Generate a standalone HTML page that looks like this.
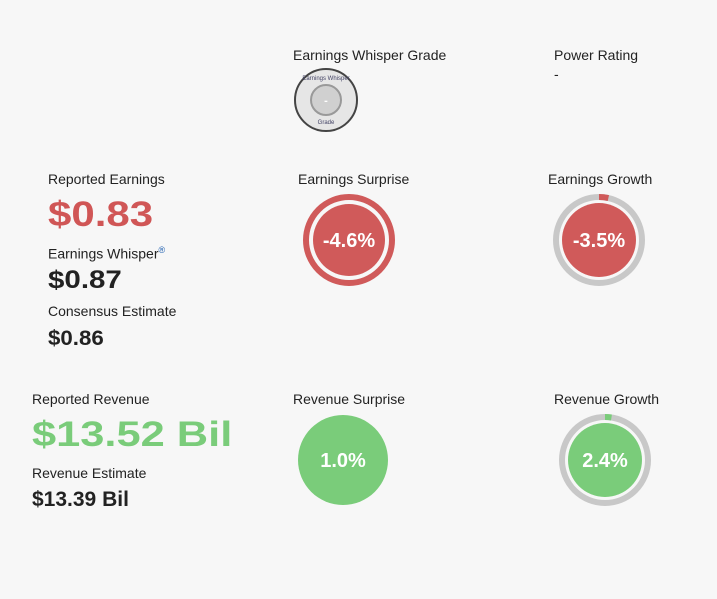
<!DOCTYPE html>
<html><head><meta charset="utf-8"><style>
body{margin:0;width:717px;height:599px;background:#f7f7f7;font-family:"Liberation Sans",sans-serif;position:relative;overflow:hidden}
.t{position:absolute;font-size:14px;color:#222;white-space:nowrap}
.big{position:absolute;font-weight:bold;white-space:nowrap;transform-origin:0 0}
svg{position:absolute;left:0;top:0}
</style></head><body>
<div class="t" style="left:293px;top:47px">Earnings Whisper Grade</div>
<div class="t" style="left:554px;top:47px">Power Rating</div>
<div class="t" style="left:554px;top:66px">-</div>
<div class="t" style="left:48px;top:171px">Reported Earnings</div>
<div class="big" style="left:48px;top:195px;font-size:35px;color:#d05656;transform:scaleX(1.2)">$0.83</div>
<div class="t" style="left:48px;top:245px">Earnings Whisper<sup style="font-size:9px;color:#2060b0">®</sup></div>
<div class="big" style="left:48px;top:266px;font-size:25px;color:#222;transform:scaleX(1.18)">$0.87</div>
<div class="t" style="left:48px;top:303px">Consensus Estimate</div>
<div class="big" style="left:48px;top:327px;font-size:21px;color:#222;transform:scaleX(1.06)">$0.86</div>
<div class="t" style="left:298px;top:171px">Earnings Surprise</div>
<div class="t" style="left:548px;top:171px">Earnings Growth</div>
<div class="t" style="left:32px;top:391px">Reported Revenue</div>
<div class="big" style="left:32px;top:415px;font-size:35px;color:#7acc7a;transform:scaleX(1.24)">$13.52 Bil</div>
<div class="t" style="left:32px;top:465px">Revenue Estimate</div>
<div class="big" style="left:32px;top:488px;font-size:21px;color:#222">$13.39 Bil</div>
<div class="t" style="left:293px;top:391px">Revenue Surprise</div>
<div class="t" style="left:554px;top:391px">Revenue Growth</div>
<svg id="s" width="717" height="599">
<g>
<circle cx="326" cy="100" r="31" fill="#e6e6e6" stroke="#444" stroke-width="2"/>
<circle cx="326" cy="100" r="15" fill="#d0d0d0" stroke="#999" stroke-width="2"/>
<text x="326" y="104" font-size="11" fill="#fff" text-anchor="middle" font-weight="bold">-</text>
<text x="326" y="80" font-size="6" fill="#446" text-anchor="middle">Earnings Whisper</text>
<text x="326" y="124" font-size="6" fill="#446" text-anchor="middle">Grade</text>
</g>
</svg>
<script>
const labels=["-4.6%","-3.5%","1.0%","2.4%"];
const values=[-4.6,-3.5,1.0,2.4];
const kinds=["surprise","growth","surprise","growth"];
const cx=[349,599,343,605],cy=[240,240,460,460];
const s=document.getElementById('s');const NS='http://www.w3.org/2000/svg';
function mk(t,a){const e=document.createElementNS(NS,t);for(const k in a)e.setAttribute(k,a[k]);s.appendChild(e);return e;}
values.forEach((v,i)=>{
 const col=v<0?'#d05a5a':'#7acc7a';const x=cx[i],y=cy[i];
 if(kinds[i]==='surprise'){
  if(i===0){const r=mk('circle',{cx:x,cy:y,r:43,fill:'none',stroke:col,'stroke-width':6});
  
  }
  const c=mk('circle',{cx:x,cy:y,r:i===0?36:45,fill:col});
  
  
 } else {
  const R=43;const bg=mk('circle',{cx:x,cy:y,r:R,fill:'none',stroke:'#c8c8c8','stroke-width':6});
  
  
  const a=Math.abs(v)/100*2*Math.PI;
  const x2=x+R*Math.sin(a),y2=y-R*Math.cos(a);
  const arc=mk('path',{d:`M${x} ${y-R} A${R} ${R} 0 ${a>Math.PI?1:0} 1 ${x2} ${y2}`,fill:'none',stroke:col,'stroke-width':6});
  
  
  const c=mk('circle',{cx:x,cy:y,r:37,fill:col});
  
  
 }
 const t=mk('text',{x:x,y:y+7,'font-size':20,'font-weight':'bold',fill:'#fff','text-anchor':'middle','font-family':'Liberation Sans, sans-serif'});
 t.textContent=labels[i];
 
 
});
</script>
</body></html>
